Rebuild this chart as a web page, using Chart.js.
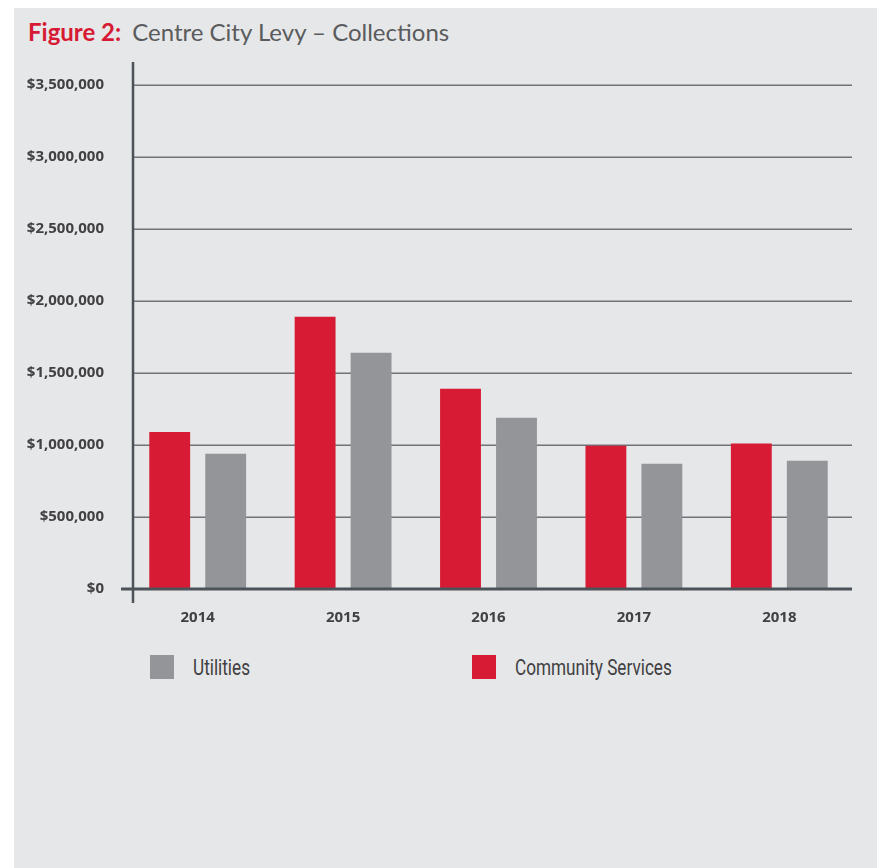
<!DOCTYPE html>
<html>
<head>
<meta charset="utf-8">
<script src="https://cdn.jsdelivr.net/npm/chart.js@4.4.1/dist/chart.umd.min.js"></script>
<style>
  html, body { margin: 0; padding: 0; background: #ffffff; width: 877px; height: 868px; overflow: hidden; }
  #panel { position: absolute; left: 14px; top: 8px; width: 863px; height: 860px; background: #e6e7e8; }
  #title { position: absolute; left: 28px; top: 18px; font-family: Lato, 'Open Sans', sans-serif; font-size: 24px; line-height: 28px; color: #5a5b5d; white-space: nowrap; }
  #title b { color: #d71a34; font-weight: 700; margin-right: 11px; }
  #wrap { position: absolute; left: 0; top: 0; width: 877px; height: 640px; }
  #legend { position: absolute; left: 0; top: 655px; width: 877px; height: 30px; font-family: Roboto, 'Open Sans', sans-serif; font-size: 22px; color: #414042; }
  .item { position: absolute; top: 0; height: 24px; display: flex; align-items: center; white-space: nowrap; }
  .sw { width: 24px; height: 24px; margin-right: 19px; flex: none; }
  .tx { display: inline-block; transform: scaleX(0.78); transform-origin: 0 50%; }
</style>
</head>
<body>
<div id="panel"></div>
<div id="title"><b>Figure 2:</b>Centre City Levy – Collections</div>
<div id="wrap"><canvas id="c"></canvas></div>
<div id="legend"></div>
<script>
const categories = ['2014', '2015', '2016', '2017', '2018'];
const communityServices = [1090000, 1890000, 1390000, 995000, 1010000];
const utilities = [940000, 1640000, 1190000, 870000, 890000];
const yTickStep = 500000;
const yMax = 3500000;

const RED = '#d71b34';
const GRAY = '#949598';
const AXIS = '#4b5258';
const GRID = '#6f7478';
const AXIS_INSET = 8; // y-axis line sits slightly inside the category band

const axisPlugin = {
  id: 'axisLines',
  beforeDatasetsDraw(chart) {
    const { ctx, chartArea } = chart;
    const ys = chart.scales.y;
    const ax = chartArea.left + AXIS_INSET;
    ctx.save();
    ctx.strokeStyle = GRID;
    ctx.lineWidth = 1.5;
    ys.ticks.forEach(t => {
      const y = Math.round(ys.getPixelForValue(t.value)) + 0.25;
      ctx.beginPath();
      ctx.moveTo(ax, y);
      ctx.lineTo(chartArea.right, y);
      ctx.stroke();
    });
    ctx.restore();
  },
  afterDatasetsDraw(chart) {
    const { ctx, chartArea } = chart;
    const ax = chartArea.left + AXIS_INSET;
    ctx.save();
    ctx.strokeStyle = AXIS;
    ctx.lineWidth = 3;
    ctx.beginPath();
    ctx.moveTo(ax - 12, chartArea.bottom);
    ctx.lineTo(chartArea.right, chartArea.bottom);
    ctx.stroke();
    ctx.lineWidth = 2.5;
    ctx.beginPath();
    ctx.moveTo(ax, chartArea.top - 23);
    ctx.lineTo(ax, chartArea.bottom + 14);
    ctx.stroke();
    ctx.restore();
  }
};

const datasets = [
  { label: 'Community Services', data: communityServices, backgroundColor: RED, borderWidth: 0 },
  { label: 'Utilities', data: utilities, backgroundColor: GRAY, borderWidth: 0 }
];

new Chart(document.getElementById('c'), {
  type: 'bar',
  data: { labels: categories, datasets: datasets },
  options: {
    responsive: true,
    maintainAspectRatio: false,
    animation: false,
    layout: { padding: { top: 85, right: 25, left: 0, bottom: 0 } },
    datasets: { bar: { categoryPercentage: 0.77, barPercentage: 0.73 } },
    plugins: { legend: { display: false }, tooltip: { enabled: false } },
    scales: {
      x: {
        afterFit(s) { s.height = 51; },
        grid: { display: false },
        border: { display: false },
        ticks: { color: '#414042', padding: 12, font: { family: "'Open Sans', sans-serif", size: 15, weight: 'bold' } }
      },
      y: {
        min: 0,
        max: yMax,
        afterFit(s) { s.width = 125; },
        border: { display: false },
        grid: { drawOnChartArea: false, drawTicks: false },
        ticks: {
          stepSize: yTickStep,
          padding: 21,
          color: '#414042',
          font: { family: "'Open Sans', sans-serif", size: 15, weight: 'bold' },
          callback: v => '$' + Number(v).toLocaleString('en-US')
        }
      }
    }
  },
  plugins: [axisPlugin]
});

// Legend (Utilities first, as in the original)
const legendItems = [datasets[1], datasets[0]];
const legendLefts = [150, 472];
const legend = document.getElementById('legend');
legendItems.forEach((d, i) => {
  const it = document.createElement('div');
  it.className = 'item';
  it.style.left = legendLefts[i] + 'px';
  const sw = document.createElement('span');
  sw.className = 'sw';
  sw.style.background = d.backgroundColor;
  const tx = document.createElement('span');
  tx.className = 'tx';
  tx.textContent = d.label;
  it.appendChild(sw);
  it.appendChild(tx);
  legend.appendChild(it);
});
</script>
</body>
</html>
